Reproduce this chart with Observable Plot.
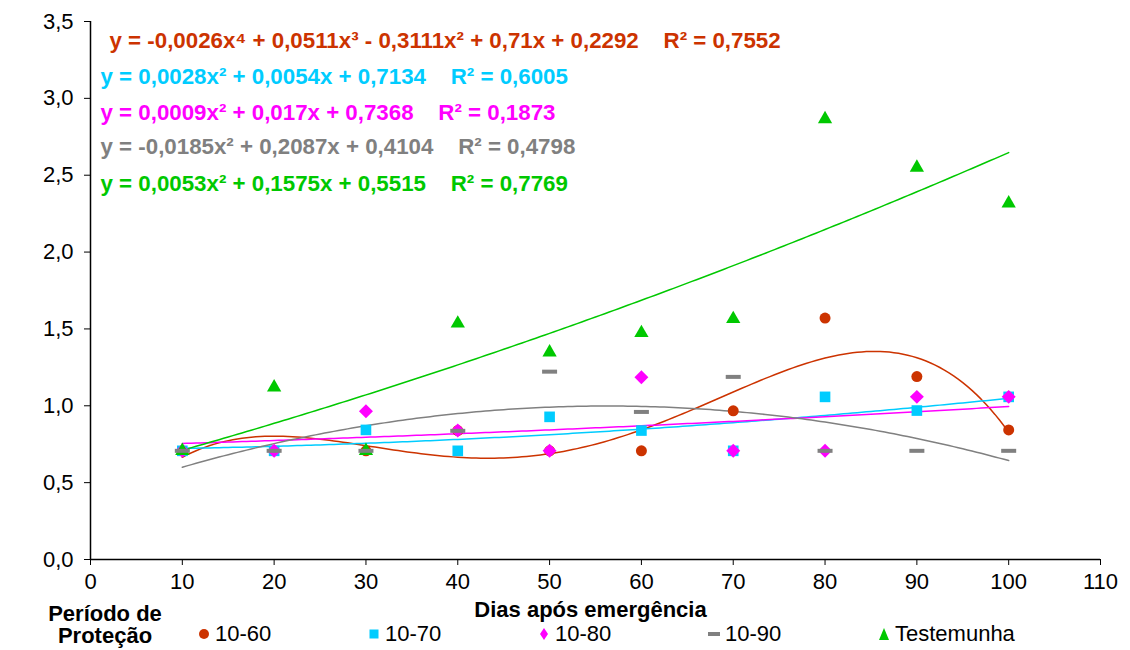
<!DOCTYPE html>
<html>
<head>
<meta charset="utf-8">
<script src="https://cdn.jsdelivr.net/npm/d3@7"></script>
<script src="https://cdn.jsdelivr.net/npm/@observablehq/plot@0.6"></script>
<style>
  body { margin: 0; background: #fff; font-family: "Liberation Sans", Arial, sans-serif; }
  #wrap { position: relative; width: 1130px; height: 650px; overflow: hidden; background: #fff; }
  #chart svg { display: block; }
  #legend-title { position: absolute; left: 40px; top: 603px; width: 130px; text-align: center;
    font-weight: bold; font-size: 22px; line-height: 22px; color: #000; }
  .item { position: absolute; top: 621px; height: 25px; display: flex; align-items: center;
    font-size: 22px; color: #000; white-space: nowrap; }
  .item svg { display: block; margin-right: 4px; }
</style>
</head>
<body>
<div id="wrap">
  <div id="chart"></div>
  <div id="legend-title">Período de<br>Proteção</div>
  <div id="legend"></div>
</div>
<script>
// ---------- data ----------
const days = [10, 20, 30, 40, 50, 60, 70, 80, 90, 100];
const p1060 = [0.707, 0.707, 0.707, 0.839, 0.707, 0.707, 0.967, 1.571, 1.190, 0.843];
const p1070 = [0.707, 0.707, 0.843, 0.707, 0.928, 0.839, 0.707, 1.058, 0.969, 1.058];
const p1080 = [0.707, 0.707, 0.964, 0.839, 0.707, 1.185, 0.707, 0.707, 1.058, 1.058];
const p1090 = [0.707, 0.707, 0.707, 0.837, 1.222, 0.960, 1.188, 0.707, 0.707, 0.707];
const pTest = [0.707, 1.120, 0.707, 1.536, 1.348, 1.474, 1.565, 2.865, 2.550, 2.317];

const seriesNames = ["10-60", "10-70", "10-80", "10-90", "Testemunha"];
const seriesColors = ["#CC3300", "#00CCFF", "#FF00FF", "#808080", "#00C800"];
const trendDegrees = [4, 2, 2, 2, 2];

const equations = [
  "y = -0,0026x⁴ + 0,0511x³ - 0,3111x² + 0,71x + 0,2292\u00a0\u00a0\u00a0\u00a0R² = 0,7552",
  "y = 0,0028x² + 0,0054x + 0,7134\u00a0\u00a0\u00a0\u00a0R² = 0,6005",
  "y = 0,0009x² + 0,017x + 0,7368\u00a0\u00a0\u00a0\u00a0R² = 0,1873",
  "y = -0,0185x² + 0,2087x + 0,4104\u00a0\u00a0\u00a0\u00a0R² = 0,4798",
  "y = 0,0053x² + 0,1575x + 0,5515\u00a0\u00a0\u00a0\u00a0R² = 0,7769"
];

const xTicks = [0, 10, 20, 30, 40, 50, 60, 70, 80, 90, 100, 110];
const yTicks = [0, 0.5, 1.0, 1.5, 2.0, 2.5, 3.0, 3.5];
const xLabel = "Dias após emergência";

// ---------- helpers ----------
const allSeries = [p1060, p1070, p1080, p1090, pTest];
const points = allSeries.map((vals, s) => days.map((d, i) => ({day: d, value: vals[i], series: seriesNames[s]})));

// least-squares polynomial trendline (Excel-style, x = point index = day/10)
function polyfit(xs, ys, deg) {
  const n = deg + 1;
  const A = Array.from({length: n}, () => new Array(n + 1).fill(0));
  for (let k = 0; k < xs.length; k++) {
    const pw = [];
    for (let j = 0; j <= 2 * deg; j++) pw[j] = Math.pow(xs[k], j);
    for (let r = 0; r < n; r++) {
      for (let c = 0; c < n; c++) A[r][c] += pw[r + c];
      A[r][n] += pw[r] * ys[k];
    }
  }
  for (let i = 0; i < n; i++) {
    let m = i;
    for (let r = i + 1; r < n; r++) if (Math.abs(A[r][i]) > Math.abs(A[m][i])) m = r;
    [A[i], A[m]] = [A[m], A[i]];
    for (let r = 0; r < n; r++) {
      if (r === i) continue;
      const f = A[r][i] / A[i][i];
      for (let c = i; c <= n; c++) A[r][c] -= f * A[i][c];
    }
  }
  return A.map((row, i) => row[n] / row[i]); // c0..cdeg
}
const curveDays = d3.range(10, 100.001, 0.5);
const trends = allSeries.map((vals, s) => {
  const coef = polyfit(days.map(d => d / 10), vals, trendDegrees[s]);
  return curveDays.map(d => ({day: d, value: coef.reduce((acc, c, j) => acc + c * Math.pow(d / 10, j), 0)}));
});

const dashSymbol = { draw(ctx) { ctx.rect(-7.5, -2, 15, 4); } };
const symbols = ["circle", "square", "diamond2", dashSymbol, "triangle"];
const radii = [5.5, 6, 6.3, 5, 5.3];
const drawOrder = [0, 1, 2, 4, 3];

const fmtY = d => d.toFixed(1).replace(".", ",");
const font = "'Liberation Sans', Arial, sans-serif";

const chart = Plot.plot({
  width: 1130,
  height: 650,
  marginLeft: 90,
  marginRight: 30,
  marginTop: 21,
  marginBottom: 91,
  style: { fontFamily: font, fontSize: "22px", color: "#000", background: "#fff" },
  x: { domain: [0, 110], label: null },
  y: { domain: [0, 3.5], label: null },
  marks: [
    Plot.axisX({ ticks: xTicks, tickSize: 6, tickPadding: 8, tickFormat: d => String(d), label: null, fontSize: 22, stroke: "#000" }),
    Plot.axisY({ ticks: yTicks, tickSize: 6, tickPadding: 11, tickFormat: fmtY, label: null, fontSize: 22, stroke: "#000" }),
    Plot.ruleY([0], { stroke: "#000", strokeWidth: 1.5 }),
    Plot.ruleX([0], { stroke: "#000", strokeWidth: 1.5 }),
    ...trends.map((t, s) => Plot.line(t, { x: "day", y: "value", stroke: seriesColors[s], strokeWidth: 1.5 })),
    ...drawOrder.map(s => Plot.dot(points[s], {
      x: "day", y: "value", symbol: symbols[s], r: radii[s], fill: seriesColors[s], stroke: "none"
    })),
    ...equations.map((eq, s) => Plot.text([eq], {
      text: d => d, frameAnchor: "top-left", textAnchor: "start", lineAnchor: "middle",
      dx: s === 0 ? 19 : 10, dy: [19.3, 55.3, 91.3, 125.3, 162.3][s],
      fill: seriesColors[s], fontWeight: "bold", fontSize: 22.3
    })),
    Plot.text([xLabel], {
      text: d => d, frameAnchor: "bottom", lineAnchor: "middle", dx: -5, dy: 50,
      fontWeight: "bold", fontSize: 22, fill: "#000"
    })
  ]
});
document.getElementById("chart").appendChild(chart);

// ---------- legend ----------
const legend = document.getElementById("legend");
const markerSvg = [
  c => `<circle cx="7" cy="7" r="5" fill="${c}"/>`,
  c => `<rect x="2.5" y="2.5" width="9" height="9" fill="${c}"/>`,
  c => `<path d="M7,1 L11,7 L7,13 L3,7 Z" fill="${c}"/>`,
  c => `<rect x="1" y="5" width="12" height="4" fill="${c}"/>`,
  c => `<path d="M7,1 L12,13 L2,13 Z" fill="${c}"/>`
];
seriesNames.forEach((name, i) => {
  const el = document.createElement("div");
  el.className = "item";
  el.style.left = (197 + i * 170) + "px";
  el.innerHTML = `<svg width="14" height="14" viewBox="0 0 14 14">${markerSvg[i](seriesColors[i])}</svg><span>${name}</span>`;
  legend.appendChild(el);
});
</script>
</body>
</html>
